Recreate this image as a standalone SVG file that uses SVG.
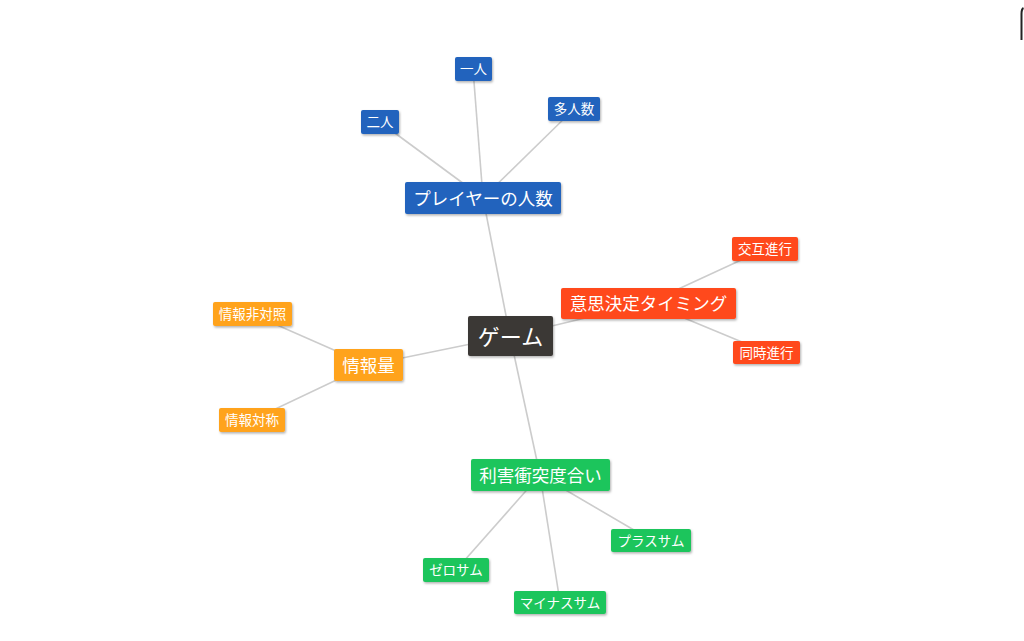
<svg xmlns="http://www.w3.org/2000/svg" width="1024" height="641" viewBox="0 0 1024 641">
<defs>
<filter id="sh" x="-20%" y="-20%" width="140%" height="150%">
<feDropShadow dx="1" dy="1.5" stdDeviation="1" flood-color="#000" flood-opacity="0.3"/>
</filter>
<style>
text{font-family:"Noto Sans CJK JP","Noto Sans",sans-serif;fill:#fff;text-anchor:middle;dominant-baseline:central}
.box{filter:url(#sh)}
.c{fill:#3b3735}
.b{fill:#2364bd}
.r{fill:#ff4a1c}
.o{fill:#ffa31a}
.g{fill:#1dc55b}
.t1{font-size:22px}
.t2{font-size:17.5px}
.t3{font-size:13.5px}
#edges line{stroke:#cccccc;stroke-width:1.6}
</style>
</defs>
<rect width="1024" height="641" fill="#fff"/>
<g id="edges">
<line x1="510" y1="336" x2="483" y2="198"/>
<line x1="510" y1="336" x2="648" y2="303"/>
<line x1="510" y1="336" x2="368" y2="365"/>
<line x1="510" y1="336" x2="540" y2="475"/>
<line x1="483" y1="198" x2="473" y2="69"/>
<line x1="483" y1="198" x2="380" y2="122"/>
<line x1="483" y1="198" x2="574" y2="109"/>
<line x1="648" y1="303" x2="765" y2="249"/>
<line x1="648" y1="303" x2="766" y2="352"/>
<line x1="368" y1="365" x2="252" y2="314"/>
<line x1="368" y1="365" x2="252" y2="420"/>
<line x1="540" y1="475" x2="651" y2="540"/>
<line x1="540" y1="475" x2="456" y2="570"/>
<line x1="540" y1="475" x2="560" y2="602"/>
</g>
<g id="n-game"><rect class="box c" x="468" y="316" width="85" height="40" rx="2"/><text class="t1" x="510.5" y="334.5">ゲーム</text></g>
<g id="n-players"><rect class="box b" x="405" y="182" width="156" height="32" rx="2"/><text class="t2" x="483" y="197">プレイヤーの人数</text></g>
<g id="n-one"><rect class="box b" x="455" y="57" width="37" height="24" rx="2"/><text class="t3" x="473.5" y="68">一人</text></g>
<g id="n-two"><rect class="box b" x="361" y="110" width="38" height="24" rx="2"/><text class="t3" x="380" y="121">二人</text></g>
<g id="n-many"><rect class="box b" x="548" y="97" width="52" height="24" rx="2"/><text class="t3" x="574" y="108">多人数</text></g>
<g id="n-timing"><rect class="box r" x="561" y="288" width="175" height="31" rx="2"/><text class="t2" x="648.5" y="302.5">意思決定タイミング</text></g>
<g id="n-alt"><rect class="box r" x="732" y="237" width="66" height="24" rx="2"/><text class="t3" x="765" y="248">交互進行</text></g>
<g id="n-sim"><rect class="box r" x="733" y="341" width="67" height="23" rx="2"/><text class="t3" x="766.5" y="351.5">同時進行</text></g>
<g id="n-info"><rect class="box o" x="334" y="349" width="69" height="32" rx="2"/><text class="t2" x="368.5" y="364">情報量</text></g>
<g id="n-asym"><rect class="box o" x="213" y="302" width="79" height="24" rx="2"/><text class="t3" x="252.5" y="313">情報非対照</text></g>
<g id="n-sym"><rect class="box o" x="219" y="408" width="66" height="24" rx="2"/><text class="t3" x="252" y="419">情報対称</text></g>
<g id="n-conflict"><rect class="box g" x="471" y="459" width="139" height="32" rx="2"/><text class="t2" x="540.5" y="474">利害衝突度合い</text></g>
<g id="n-plus"><rect class="box g" x="611" y="529" width="80" height="23" rx="2"/><text class="t3" x="651" y="539.5">プラスサム</text></g>
<g id="n-zero"><rect class="box g" x="423" y="558" width="66" height="24" rx="2"/><text class="t3" x="456" y="569">ゼロサム</text></g>
<g id="n-minus"><rect class="box g" x="514" y="591" width="92" height="23" rx="2"/><text class="t3" x="560" y="601.5">マイナスサム</text></g>
<path d="M1021.5 40 V14 Q1021.5 9 1023.5 8" stroke="#222" stroke-width="2" fill="none"/>
</svg>
